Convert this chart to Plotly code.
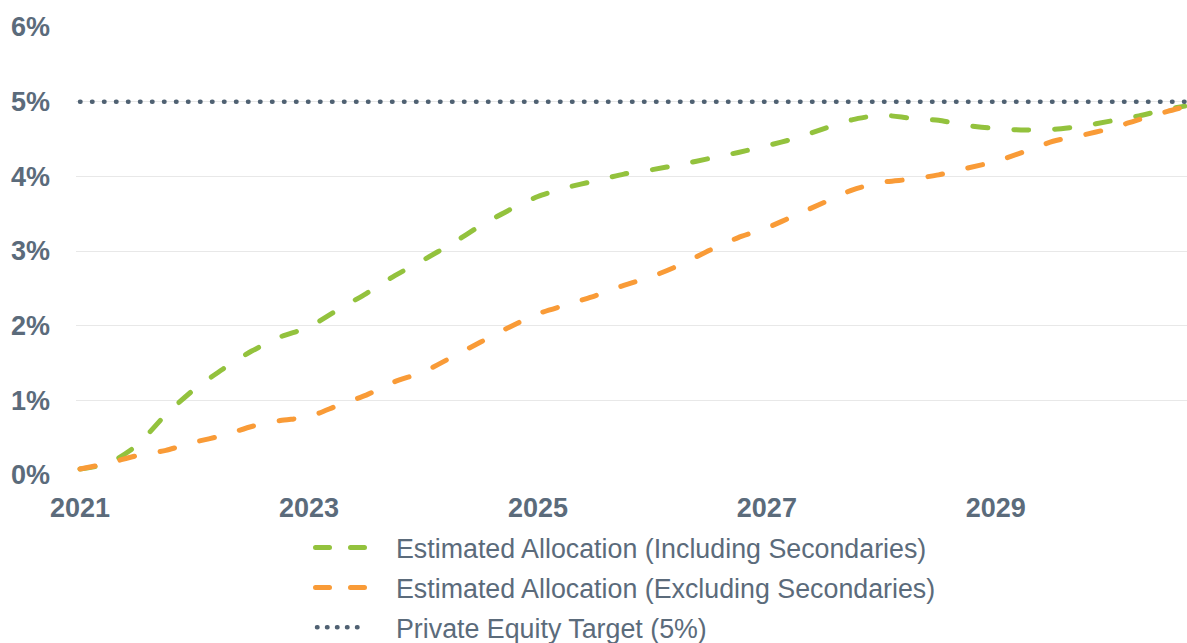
import plotly.graph_objects as go

# Projection periods (fractional years, quarterly) and allocation estimates in % of portfolio
periods = [
    2021.00, 2021.25, 2021.50, 2021.75, 2022.00, 2022.25, 2022.50, 2022.75,
    2023.00, 2023.25, 2023.50, 2023.75, 2024.00, 2024.25, 2024.50, 2024.75,
    2025.00, 2025.25, 2025.50, 2025.75, 2026.00, 2026.25, 2026.50, 2026.75,
    2027.00, 2027.25, 2027.50, 2027.75, 2028.00, 2028.25, 2028.50, 2028.75,
    2029.00, 2029.25, 2029.50, 2029.75, 2030.00, 2030.25, 2030.50, 2030.65,
]
incl_secondaries = [
    0.08, 0.155, 0.40, 0.81, 1.15, 1.42, 1.66, 1.85,
    1.98, 2.21, 2.43, 2.67, 2.88, 3.10, 3.34, 3.55,
    3.73, 3.85, 3.94, 4.03, 4.09, 4.16, 4.24, 4.32,
    4.41, 4.51, 4.64, 4.76, 4.82, 4.78, 4.75, 4.68,
    4.64, 4.62, 4.63, 4.67, 4.74, 4.81, 4.90, 4.94,
]
excl_secondaries = [
    0.08, 0.16, 0.26, 0.33, 0.44, 0.53, 0.65, 0.73,
    0.78, 0.93, 1.07, 1.25, 1.38, 1.58, 1.78, 1.98,
    2.16, 2.28, 2.40, 2.54, 2.66, 2.82, 3.01, 3.18,
    3.31, 3.48, 3.65, 3.82, 3.92, 3.96, 4.02, 4.11,
    4.20, 4.33, 4.47, 4.55, 4.64, 4.76, 4.87, 4.93,
]
target = [5.0] * len(periods)

year_ticks = [2021, 2023, 2025, 2027, 2029]
year_labels = ["2021", "2023", "2025", "2027", "2029"]
pct_ticks = [0, 1, 2, 3, 4, 5, 6]
pct_labels = ["0%", "1%", "2%", "3%", "4%", "5%", "6%"]

names = [
    "Estimated Allocation (Including Secondaries)",
    "Estimated Allocation (Excluding Secondaries)",
    "Private Equity Target (5%)",
]

GREEN = "#93c23d"
ORANGE = "#f99b37"
SLATE = "#4f6172"
TEXT = "#5b6b7b"
FONT = "Arial, 'Liberation Sans', sans-serif"

fig = go.Figure()
fig.add_trace(go.Scatter(
    x=periods, y=incl_secondaries, name=names[0], mode="lines", legendgroup="a",
    line=dict(color=GREEN, width=5, dash="15px,26px", shape="spline", smoothing=0.6),
))
fig.add_trace(go.Scatter(
    x=periods, y=excl_secondaries, name=names[1], mode="lines", legendgroup="b",
    line=dict(color=ORANGE, width=5, dash="15px,26px", shape="spline", smoothing=0.6),
))
fig.add_trace(go.Scatter(
    x=periods, y=target, name=names[2], mode="lines", legendgroup="c",
    line=dict(color=SLATE, width=4.5, dash="0.5px,11.5px"),
))

W, H = 1187, 643
M_L, M_T = 76, 27
PLOT_BOTTOM = 475  # pixel row of the 0% gridline
paper_h = H - M_T

fig.update_layout(
    width=W, height=H,
    margin=dict(l=M_L, r=0, t=M_T, b=0),
    paper_bgcolor="white", plot_bgcolor="white",
    font=dict(family=FONT, color=TEXT),
    showlegend=True,
    legend=dict(
        x=(300 - M_L) / (W - M_L), xanchor="left",
        y=0, yanchor="bottom",
        font=dict(size=26.8, color=TEXT, family=FONT),
        tracegroupgap=2, itemwidth=86, bgcolor="rgba(0,0,0,0)",
    ),
    xaxis=dict(
        range=[2020.965, 2030.67], tickvals=year_ticks, ticktext=year_labels,
        showgrid=False, zeroline=False, showline=False, ticks="",
        tickfont=dict(size=27, color=TEXT, family=FONT, weight="bold"),
        ticklabelstandoff=14, automargin=False,
    ),
    yaxis=dict(
        range=[0, 6], tickvals=pct_ticks, ticktext=pct_labels,
        domain=[(H - PLOT_BOTTOM) / paper_h, 1],
        showgrid=True, gridcolor="#e8e8e8", gridwidth=1,
        zeroline=False, showline=False, ticks="",
        tickfont=dict(size=27, color=TEXT, family=FONT, weight="bold"),
        ticklabelstandoff=25, automargin=False,
    ),
)

# Round line caps give the dashes and dots their soft ends; the legend keys
# are widened to show two dashes / a short run of dots, and the legend block
# is set so its first entry sits just under the year labels.
post = """
var gd = document.getElementById('{plot_id}');
var LEGEND_FIRST_ROW = 549;
function styleLines() {
  gd.querySelectorAll('.scatterlayer .js-line').forEach(function (p) {
    p.style.strokeLinecap = 'round';
  });
  var keys = [
    {d: 'M15.5,0h49', dash: '14px,21px'},
    {d: 'M15.5,0h49', dash: '14px,21px'},
    {d: 'M17,0h50', dash: '0.5px,9.5px'}
  ];
  gd.querySelectorAll('.legend .traces').forEach(function (g, i) {
    var k = keys[i];
    if (!k) return;
    g.querySelectorAll('.legendlines path').forEach(function (p) {
      p.setAttribute('d', k.d);
      p.style.strokeDasharray = k.dash;
      p.style.strokeLinecap = 'round';
    });
  });
  var leg = gd.querySelector('.legend');
  var txt = gd.querySelector('.legend .legendtext');
  if (leg && txt) {
    var r = txt.getBoundingClientRect();
    var top = gd.getBoundingClientRect().top;
    var dy = LEGEND_FIRST_ROW - (r.top + r.height / 2 - top);
    var m = /translate\\(\\s*([-\\d.e]+)[\\s,]+([-\\d.e]+)\\s*\\)/.exec(leg.getAttribute('transform') || '');
    if (m && Math.abs(dy) > 0.5) {
      leg.setAttribute('transform', 'translate(' + m[1] + ',' + (parseFloat(m[2]) + dy) + ')');
    }
  }
}
styleLines();
gd.on('plotly_afterplot', styleLines);
"""

fig.write_html("out.html", post_script=post)
